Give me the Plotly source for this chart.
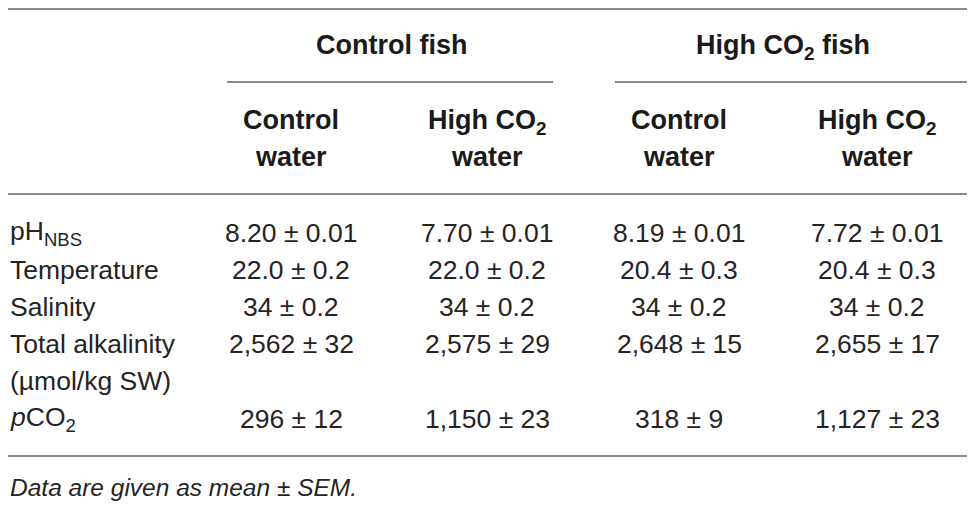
import plotly.graph_objects as go

# table content
group_labels = ["Control fish", "High CO<sub>2</sub> fish"]
sub_line1 = ["Control", "High CO<sub>2</sub>", "Control", "High CO<sub>2</sub>"]
sub_line2 = ["water", "water", "water", "water"]
row_labels = ["pH<sub>NBS</sub>", "Temperature", "Salinity", "Total alkalinity", "(µmol/kg SW)", "<i>p</i>CO<sub>2</sub>"]

ctrl_fish_ctrl_water = ["8.20 ± 0.01", "22.0 ± 0.2", "34 ± 0.2", "2,562 ± 32", "", "296 ± 12"]
ctrl_fish_high_water = ["7.70 ± 0.01", "22.0 ± 0.2", "34 ± 0.2", "2,575 ± 29", "", "1,150 ± 23"]
high_fish_ctrl_water = ["8.19 ± 0.01", "20.4 ± 0.3", "34 ± 0.2", "2,648 ± 15", "", "318 ± 9"]
high_fish_high_water = ["7.72 ± 0.01", "20.4 ± 0.3", "34 ± 0.2", "2,655 ± 17", "", "1,127 ± 23"]

footnote = "Data are given as mean ± SEM."

# layout: axis units are page pixels (the page body has an 8px margin)
W, H = 975, 506
OFF = 8
col_x = [291, 487, 679, 877]
group_x = [391, 783]
group_spans = [(227, 553), (615, 968)]
row_y = [233, 270, 307, 344, 381, 419]
label_x = 8
SUB_SHIFT = 1.5  # subscripts make the text box taller, push it back down
TEXT = "#262324"
RULE = "#8a8a8a"
body_font = dict(family="Liberation Sans", size=26.5, color=TEXT)
head_font = dict(family="Liberation Sans", size=27, color="#1a1a1a", weight="bold")
note_font = dict(family="Liberation Sans", size=24.5, color=TEXT, style="italic")


def hy(y, txt):
    return y + SUB_SHIFT if "<sub>" in txt else y


fig = go.Figure()

ann = []
for gx, g in zip(group_x, group_labels):
    ann.append(dict(x=gx, y=hy(45, g), text=g, font=head_font))
for cx, s1, s2 in zip(col_x, sub_line1, sub_line2):
    ann.append(dict(x=cx, y=hy(120, s1), text=s1, font=head_font))
    ann.append(dict(x=cx, y=157, text=s2, font=head_font))

for ry, lab in zip(row_y, row_labels):
    ann.append(dict(x=label_x, y=ry, text=lab, xanchor="left", font=body_font))

columns = [ctrl_fish_ctrl_water, ctrl_fish_high_water, high_fish_ctrl_water, high_fish_high_water]
for cx, col in zip(col_x, columns):
    for ry, v in zip(row_y, col):
        if v:
            ann.append(dict(x=cx, y=ry, text=v, font=body_font))

ann.append(dict(x=label_x, y=487, text=footnote, xanchor="left", font=note_font))

for a in ann:
    a.update(xref="x", yref="y", showarrow=False)
    a.setdefault("xanchor", "center")
    a.setdefault("yanchor", "middle")

shapes = []
for y in (9, 194, 456):
    shapes.append(dict(type="line", x0=8, x1=968, y0=y, y1=y))
for x0, x1 in group_spans:
    shapes.append(dict(type="line", x0=x0, x1=x1, y0=82, y1=82))
for s in shapes:
    s.update(xref="x", yref="y", line=dict(color=RULE, width=2))

fig.update_layout(
    width=W, height=H,
    margin=dict(l=0, r=0, t=0, b=0),
    paper_bgcolor="white", plot_bgcolor="white",
    xaxis=dict(range=[OFF, W + OFF], visible=False, fixedrange=True),
    yaxis=dict(range=[H + OFF, OFF], visible=False, fixedrange=True),
    annotations=ann, shapes=shapes,
    showlegend=False,
)

fig.write_html("out.html")
